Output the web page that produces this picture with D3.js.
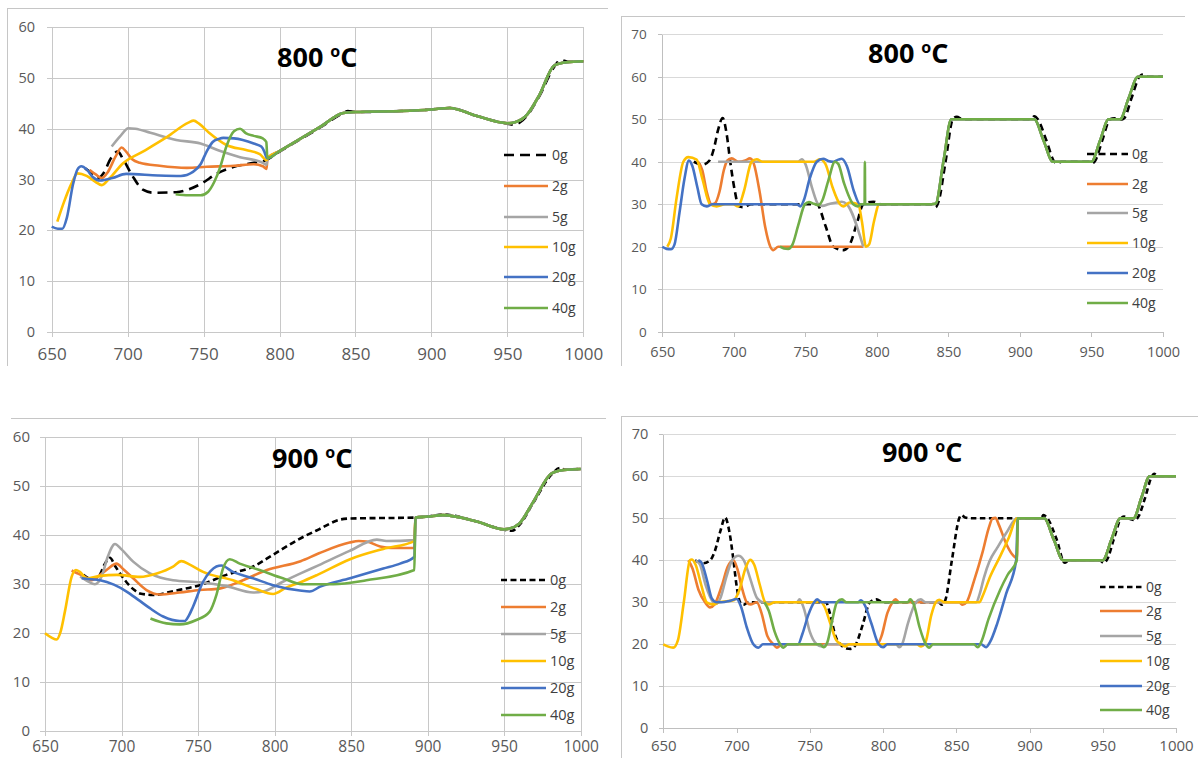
<!DOCTYPE html>
<html>
<head>
<meta charset="utf-8">
<script src="https://cdn.jsdelivr.net/npm/d3@7"></script>
<style>
  html, body { margin: 0; padding: 0; background: #ffffff; }
  svg { display: block; font-family: "Open Sans", "Noto Sans", sans-serif; }
</style>
</head>
<body>
<svg id="chart" width="1198" height="758"></svg>
<script>
// ---------- axis ticks ----------
const xTicks = [650, 700, 750, 800, 850, 900, 950, 1000];
const xTickLabels = ["650", "700", "750", "800", "850", "900", "950", "1000"];
const yTicks60 = [0, 10, 20, 30, 40, 50, 60];
const yTickLabels60 = ["0", "10", "20", "30", "40", "50", "60"];
const yTicks70 = [0, 10, 20, 30, 40, 50, 60, 70];
const yTickLabels70 = ["0", "10", "20", "30", "40", "50", "60", "70"];

// ---------- series ----------
const seriesNames = ["0g", "2g", "5g", "10g", "20g", "40g"];

// 800 °C, left chart: shared profile after the convergence point
const tail800a = [[792,34.2],[800,35.6],[813,37.9],[827,40.4],[842,43.1],[850,43.3],[880,43.5],[900,43.8],[912,44.1],[930,42.5],[950,41.1],[955,41.3],[963,42.8],[971,46.6],[981,52.5],[989,53.1],[1000,53.3]];
const zero800a = [[672,32.2],[676,31.3],[680,30.2],[684,31.2],[689,34.2],[693.5,35.5],[697,34],[703,30.8],[710,28],[717,27.4],[732,27.5],[748,29.1],[759,31.2],[770,32.5],[783,33.3],[791,33.8],[800,35.5],[813,37.8],[827,40.3],[842,43.1],[845,43.5],[850,43.3],[880,43.5],[900,43.8],[912,44.1],[930,42.5],[950,41],[954,40.8],[958,41.2],[963,42.6],[971,46.4],[981,52.3],[985,53.6],[990,53.2],[1000,53.3]];
const two800a = [[675,31.9],[679,31],[683,30.3],[687,31.5],[692,34.5],[696,36.3],[699,35.5],[703,34],[708,33.3],[721,32.7],[739,32.3],[752,32.5],[770,32.7],[783,33],[789,32.6],[791.5,32.1]];
const five800a = [[689.5,36.5],[695,38.5],[700.5,40.1],[705,40],[715,39.2],[732,37.8],[748,37.1],[761,35.6],[774,34.4],[789,33.3],[791.5,32.9]];
const ten800a = [[653.7,21.7],[658,25.5],[663,29.2],[667,31.2],[673,30.7],[679,29.5],[683,28.9],[688,30.2],[697,33.2],[710,35.5],[726,38.4],[740,41.2],[743.5,41.6],[747,41],[754,39.1],[765,36.8],[778,35.8],[787,35],[791.5,33.8]];
const twenty800a = [[650,20.7],[654,20.3],[657,20.3],[660,22.5],[664,29],[667,32],[669.5,32.6],[673,32],[677,30.5],[682,29.8],[690,30.3],[699,31.1],[720,30.8],[735,30.7],[743,31.5],[748,33],[752,35.5],[756,37.4],[760,38],[763,38.2],[770,38.1],[783,37.1],[788,36.5],[790,35.5],[791.5,34.3]];
const forty800a = [[731.6,27.1],[740,26.9],[748,26.9],[753,27.6],[757,29.5],[761,32.5],[765,36.5],[770,39.5],[774,40],[778,39.1],[783,38.6],[789,38.1],[791.3,37.4]];

// 800 °C, right chart
const tail800b = [[838,30],[841,30.1],[846.5,40],[852,50],[910,50],[916.5,45],[923,40],[950,40],[956,45],[962,50],[970,50],[976,55],[982.5,60],[1000,60]];
const zero800b = [[672,40],[678,39.3],[683,40.3],[686,43],[689,47.5],[692.2,50.3],[695,46.5],[697.5,40],[700.5,33.5],[703.5,29.5],[707,29.3],[712,30],[758,30],[764,25],[769.5,20],[776.5,19.2],[781,20.5],[786,25.5],[790.5,30],[797.5,30.6],[803,30],[838,30],[841,29.3],[843,30.5],[848,40],[853,50],[855.8,50.6],[860,50],[908,50],[910,50.7],[912.5,50],[918.5,45],[924,40],[926,39.6],[929,40],[948,40],[950,39.6],[952.5,40.2],[957.5,45],[963,50],[966,50.2],[970.5,49.9],[973,50.3],[978,55],[983.5,60],[986.5,60.6],[990,60],[1000,60]];
const two800b = [[675,40],[678,38],[681,33],[684.5,30],[687,30.3],[690,33],[693,38],[695.5,40.3],[698.5,40.8],[703,40],[708,40.3],[711.3,40.8],[714,39.5],[718,33],[722,24.5],[725.5,20],[727.6,19.2],[731,20],[790.5,20]];
const five800b = [[689,40],[745,40],[747.5,40.6],[750,39.5],[755,33.5],[759,30],[762,29.6],[766,30],[772,30.4],[775.5,30.6],[779,30],[790.5,20]];
const ten800b = [[653.5,20],[656,22],[660,31.5],[664.7,40],[668.2,41.1],[674,40.5],[678,36],[683.3,30],[688,29.5],[694,30],[699.6,30],[703,29.5],[707,33],[712.4,40],[716,40.6],[720,40],[756,40],[760.2,40.6],[764,39.5],[769,34],[774.2,30],[776.5,29.5],[781,30.4],[787,30],[789.5,26],[792.4,20],[794.5,20.5],[798,26],[801.7,30]];
const twenty800b = [[650,20],[653,19.5],[656,19.4],[658.5,20.5],[662,28],[665.5,36],[668.6,40.3],[671,39],[674.5,34],[677.5,30],[681,29.5],[685,30],[744,30],[746.5,29.5],[749,31],[753,36],[758,40],[762.5,40.7],[766,40.2],[769.5,40],[773,40.5],[775.4,40.7],[779,39],[784,33],[788.2,30],[792,30],[800,30]];
const forty800b = [[732.3,20],[735,19.6],[738,19.5],[741,20.5],[745,25],[749.7,30],[752.5,30.5],[756,30.1],[759,29.8],[762,31],[766,35.5],[770.7,40],[773,39.5],[777,35],[783.5,30],[786.7,29.5],[789,30],[791.4,30],[791.6,40],[791.8,30],[800,30]];

// 900 °C, left chart
const tail900a = [[892,43.5],[900,43.7],[910,44],[932,42.7],[950,41.1],[953,41.2],[960,42.3],[969,46.7],[981,52.5],[989,53.2],[1000,53.4]];
const zero900a = [[675,31.8],[680,31],[685,31.5],[689,34],[692.4,35.3],[696,33.5],[703,30.4],[708,28.8],[712,28],[720.7,27.7],[734,28.5],[751,29.7],[768.5,31.8],[786,33.5],[799,35.9],[816,39.1],[829,41.1],[843,43.1],[849,43.3],[892,43.5],[900,43.7],[910,44.1],[932,42.7],[950,41],[955,40.8],[960,42],[969,46.5],[981,52.3],[986.5,53.6],[990,53.3],[1000,53.4]];
const two900a = [[667.4,32.7],[672,32],[675,31.6],[680.4,30.7],[686,31.8],[691,33],[696.7,34.1],[701,33],[707.6,31.1],[716.3,28.7],[725,27.8],[738,28.2],[751,28.7],[764,29],[777,30.4],[795,32.8],[817,34.6],[829,36.2],[849,38.4],[855,38.7],[860,38.6],[869,37.6],[876,37.3],[891.4,37.3]];
const five900a = [[673,31.5],[678,30.5],[682.6,29.9],[687,31.5],[691,35.5],[695.7,38.1],[700,37],[707.6,34.5],[718.5,32.1],[733.7,30.7],[751,30.3],[768.5,29.5],[786,28.2],[792.4,28.4],[805.4,30.4],[817,32.1],[829,33.8],[849,36.7],[866.8,39],[873,38.7],[891.4,38.9]];
const ten900a = [[650,19.9],[654.3,19],[657.6,18.6],[660,20],[663,24.3],[667.4,31.4],[670.2,32.8],[672.8,32.4],[677.2,31.1],[686,31.6],[697,31.8],[712,31.4],[723,32.1],[733.7,33.5],[739,34.6],[744.6,33.9],[753.3,32.4],[772.8,30.7],[788,28.9],[799,27.9],[807.6,29.2],[817,30.3],[828,31.8],[849.3,35],[871,37.1],[891.4,38.7]];
const twenty900a = [[673.9,31.1],[680,30.9],[686,30.7],[695,29.8],[703.3,28.4],[711,26.7],[718.5,25],[727.2,23.3],[738,22.4],[741.3,22.4],[744,23.5],[746.7,25.3],[753.3,30.4],[758,32.5],[762,33.5],[765.2,33.7],[772.8,32.4],[786,31.1],[799,29.7],[816.5,28.6],[823,28.4],[829.8,29.4],[849.3,31.1],[871,33.1],[882,34.1],[891.4,35.5]];
const forty900a = [[718.9,22.9],[729.3,21.9],[738,21.7],[748.9,22.6],[757.6,24.3],[762,27.7],[766.3,33.1],[770.7,35],[777.2,34.1],[790.2,32.8],[805.4,31.1],[818,29.9],[838.5,29.9],[860,30.7],[891.3,32.8]];

// 900 °C, right chart
const tail900b = [[892,50],[910,50],[916.5,45],[923,40],[950,40],[956,45],[962,50],[971,50],[976.5,55],[982,60],[1000,60]];
const zero900b = [[671.7,40],[677.4,39.3],[682,40],[685,42],[689,47],[692.2,50.2],[695,47],[697.9,40],[700,34],[702.4,30],[704.7,29.4],[708,30],[761,30],[764,27],[767.5,22],[771,20],[775,19],[778,18.9],[781.5,20],[786,24.5],[791,30],[795.5,30.7],[800,30],[838,30],[840,29.4],[842.5,30.5],[847,40],[852,50],[853.5,50.8],[856,50.2],[860,50],[908,50],[909.5,50.8],[912,50.1],[918.5,45],[924,39.4],[927,40],[948,40],[950.5,39.4],[953,40.2],[957.5,45],[962.5,50],[964.5,50.4],[969,49.8],[972,49.6],[974.5,50.5],[979,55],[983.5,60],[985,60.6],[988,60],[1000,60]];
const two900b = [[667.1,40],[670,38],[674,33],[678.5,30],[681.9,28.8],[685,29.5],[690,34],[694,38.5],[697.9,40],[700.5,38],[704,33],[707,30],[709.5,29.5],[713.8,30],[717,27.5],[721,22],[725.2,20],[727.5,19.2],[731,20],[796,20],[799,22],[803,27.5],[806.5,30],[808.5,30.7],[811,30],[852,30],[854.3,29.4],[857,30],[862,35],[868,42],[872,47.5],[874.9,50],[876.7,50.1],[879,48.5],[884,44],[888,41.5],[891.4,40.5]];
const five900b = [[672,40],[675,39],[679,34],[684.2,30],[686,29.6],[689,31],[693,36],[697,40],[701.3,41.1],[705,40],[709,36],[714,31],[718.4,30],[741.2,30],[743,30.7],[746,28.5],[750,23],[754.7,20],[758,19.5],[762,20],[809,20],[811,19.3],[813,20],[817,25],[822.4,30],[825.8,30.7],[829,30],[863.5,30],[866,32],[869,36],[872.6,39.7],[878,43],[885,47],[891.4,50]];
const ten900b = [[650,20],[653,19.5],[656.8,19.2],[660,21],[664,30],[668.2,40],[669.4,40.2],[672,39],[676,34],[679.6,30],[684.2,29.5],[688,30],[698,30.5],[702,33],[706,38],[709.3,40.1],[712,39],[716,34],[719.5,30],[722,29.5],[726,30],[754,30],[757,30.3],[760,29],[764,25],[768,21],[771.5,20],[774,19.5],[777,20],[823,20],[826,19.5],[829,20.5],[833,27],[836,30],[838.4,30.6],[842,30],[865.8,30],[868,31.5],[873,36],[880,41],[886,45.5],[891.4,50]];
const twenty900b = [[673.9,40],[676,39.5],[680,35],[683,31],[686.5,30],[690,30],[695,30.3],[700.1,30.8],[703,29],[707,24],[711.5,20],[715,19.2],[718,20],[742,20],[745,22.5],[749,27],[753,30],[755,30.7],[758,30],[783,30],[785,30.5],[788,29],[792,25],[797,20],[800,19.3],[803,20],[867,20],[870.3,19.3],[873,20.5],[878,25],[884,32],[890.9,40]];
const forty900b = [[719,30],[722,28],[726,23],[729.8,20],[732,19.2],[735,20],[757,20],[759.4,19.3],[762,20.5],[765.5,26],[768.5,30],[772,30.7],[775,30],[817,30],[818.5,30.7],[821,29.5],[825,24],[829.2,20],[831.5,19.2],[834,20],[862,20],[864.6,19.3],[867,20.5],[872,26],[880,33],[885,36.5],[891.3,40]];

// ---------- styling ----------
const seriesColors = ["#000000", "#ED7D31", "#A5A5A5", "#FFC000", "#4472C4", "#70AD47"];
const tickColor = "#595959";
const legendText = "#404040";

const panels = [
  {
    temp: "800",
    series: [zero800a, two800a.concat(tail800a), five800a.concat(tail800a), ten800a.concat(tail800a), twenty800a.concat(tail800a), forty800a.concat(tail800a)],
    ymax: 60, yTicks: yTicks60, yLabels: yTickLabels60,
    x0: 51.7, x1: 583.3, y0: 27.3, y1: 331.7, style: "grid",
    yFont: 14.5, xFont: 17, yLabelRight: 35, xBaseline: 360,
    legend: { x0: 504, x1: 548, ys: [155, 186, 217, 247, 277, 308], font: 14 },
    title: { x: 277, y: 67 }, dash: "10,6",
    border: "M7.5,366V8.5H608"
  },
  {
    temp: "800",
    series: [zero800b, two800b, five800b, ten800b.concat(tail800b), twenty800b.concat(tail800b), forty800b.concat(tail800b)],
    ymax: 70, yTicks: yTicks70, yLabels: yTickLabels70,
    x0: 662.3, x1: 1163, y0: 34.3, y1: 331.7, style: "axis",
    yFont: 13.5, xFont: 14.5, yLabelRight: 646.7, xBaseline: 357.5,
    legend: { x0: 1087, x1: 1128, ys: [154, 184, 213, 243, 273, 303], font: 14 },
    title: { x: 868, y: 63 }, dash: "7,4.5",
    border: "M621.5,366V16.5H1185"
  },
  {
    temp: "900",
    series: [zero900a, two900a.concat(tail900a), five900a.concat(tail900a), ten900a.concat(tail900a), twenty900a.concat(tail900a), forty900a.concat(tail900a)],
    ymax: 60, yTicks: yTicks60, yLabels: yTickLabels60,
    x0: 45, x1: 580.7, y0: 436.7, y1: 730.7, style: "grid",
    yFont: 15, xFont: 15.5, yLabelRight: 30, xBaseline: 752.5,
    legend: { x0: 501, x1: 546, ys: [580, 607, 634, 661, 688, 715], font: 14.5 },
    title: { x: 272, y: 468 }, dash: "6,3.5",
    border: "M11,418.5H606"
  },
  {
    temp: "900",
    series: [zero900b, two900b.concat(tail900b), five900b.concat(tail900b), ten900b.concat(tail900b), twenty900b.concat(tail900b), forty900b.concat(tail900b)],
    ymax: 70, yTicks: yTicks70, yLabels: yTickLabels70,
    x0: 663.3, x1: 1176, y0: 434.3, y1: 728.3, style: "axis",
    yFont: 14.5, xFont: 15, yLabelRight: 648.3, xBaseline: 751.5,
    legend: { x0: 1100, x1: 1142, ys: [587, 611, 636, 661, 686, 710], font: 14 },
    title: { x: 882, y: 462 }, dash: "5.5,3.5",
    border: "M621.5,758V416.5H1198"
  }
];

const svg = d3.select("#chart");

panels.forEach(p => {
  const g = svg.append("g");
  const x = d3.scaleLinear().domain([650, 1000]).range([p.x0, p.x1]);
  const y = d3.scaleLinear().domain([0, p.ymax]).range([p.y1, p.y0]);
  const w = p.x1 - p.x0, h = p.y1 - p.y0;

  // frame of the chart area
  g.append("path").attr("d", p.border).attr("fill", "none")
    .attr("stroke", "#c6c6c6").attr("stroke-width", 1).attr("shape-rendering", "crispEdges");

  const styleAxis = (sel, font) => {
    sel.attr("font-family", null).attr("font-size", font);
    sel.selectAll("text").attr("fill", tickColor);
  };

  if (p.style === "grid") {
    const ya = g.append("g").attr("transform", `translate(${p.x0},0)`)
      .call(d3.axisLeft(y).tickValues(p.yTicks).tickFormat((d, i) => p.yLabels[i])
        .tickSizeInner(-w).tickSizeOuter(0).tickPadding(p.x0 - p.yLabelRight));
    ya.select(".domain").remove();
    ya.selectAll(".tick line").attr("x1", -5).attr("stroke", "#c8c8c8").attr("shape-rendering", "crispEdges");
    styleAxis(ya, p.yFont);

    const xa = g.append("g").attr("transform", `translate(0,${p.y1})`)
      .call(d3.axisBottom(x).tickValues(xTicks).tickFormat((d, i) => xTickLabels[i])
        .tickSizeInner(-h).tickSizeOuter(0).tickPadding(p.xBaseline - p.y1 - 0.71 * p.xFont));
    xa.select(".domain").remove();
    xa.selectAll(".tick line").attr("y1", 5).attr("stroke", "#c8c8c8").attr("shape-rendering", "crispEdges");
    styleAxis(xa, p.xFont);
  } else {
    const grid = g.append("g").attr("transform", `translate(${p.x0},0)`)
      .call(d3.axisLeft(y).tickValues(p.yTicks.filter(v => v > 0)).tickFormat("").tickSize(-w));
    grid.select(".domain").remove();
    grid.selectAll("line").attr("stroke", "#d9d9d9").attr("shape-rendering", "crispEdges");

    const ya = g.append("g").attr("transform", `translate(${p.x0},0)`)
      .call(d3.axisLeft(y).tickValues(p.yTicks).tickFormat((d, i) => p.yLabels[i])
        .tickSizeInner(4).tickSizeOuter(0).tickPadding(p.x0 - p.yLabelRight - 4));
    ya.select(".domain").attr("stroke", "#bfbfbf").attr("shape-rendering", "crispEdges");
    ya.selectAll(".tick line").attr("stroke", "#bfbfbf").attr("shape-rendering", "crispEdges");
    styleAxis(ya, p.yFont);

    const xa = g.append("g").attr("transform", `translate(0,${p.y1})`)
      .call(d3.axisBottom(x).tickValues(xTicks).tickFormat((d, i) => xTickLabels[i])
        .tickSizeInner(5).tickSizeOuter(0).tickPadding(p.xBaseline - p.y1 - 5 - 0.71 * p.xFont));
    xa.select(".domain").attr("stroke", "#bfbfbf").attr("shape-rendering", "crispEdges");
    xa.selectAll(".tick line").attr("stroke", "#bfbfbf").attr("shape-rendering", "crispEdges");
    styleAxis(xa, p.xFont);
  }

  // smoothed data lines, 0g drawn first so the heavier loads sit on top
  const line = d3.line().x(d => x(d[0])).y(d => y(d[1])).curve(d3.curveMonotoneX);
  p.series.forEach((s, i) => {
    g.append("path").datum(s).attr("d", line)
      .attr("fill", "none").attr("stroke", seriesColors[i]).attr("stroke-width", 2.6)
      .attr("stroke-linejoin", "round")
      .attr("stroke-dasharray", i === 0 ? p.dash : null);
  });

  // legend
  const lg = g.append("g");
  seriesNames.forEach((n, i) => {
    const ly = p.legend.ys[i];
    lg.append("line").attr("x1", p.legend.x0).attr("x2", p.legend.x1).attr("y1", ly).attr("y2", ly)
      .attr("stroke", seriesColors[i]).attr("stroke-width", 2.6)
      .attr("stroke-dasharray", i === 0 ? p.dash : null);
    lg.append("text").attr("x", p.legend.x1 + 4).attr("y", ly).attr("dy", "0.35em")
      .attr("font-size", p.legend.font).attr("fill", legendText).text(n);
  });

  // title with degree mark
  const t = g.append("text").attr("x", p.title.x).attr("y", p.title.y)
    .attr("font-size", 27).attr("font-weight", "bold").attr("fill", "#000");
  t.append("tspan").text(p.temp + " ");
  t.append("tspan").attr("font-size", 16).attr("dy", -10).text("o");
  t.append("tspan").attr("dy", 10).text("C");
});
</script>
</body>
</html>
